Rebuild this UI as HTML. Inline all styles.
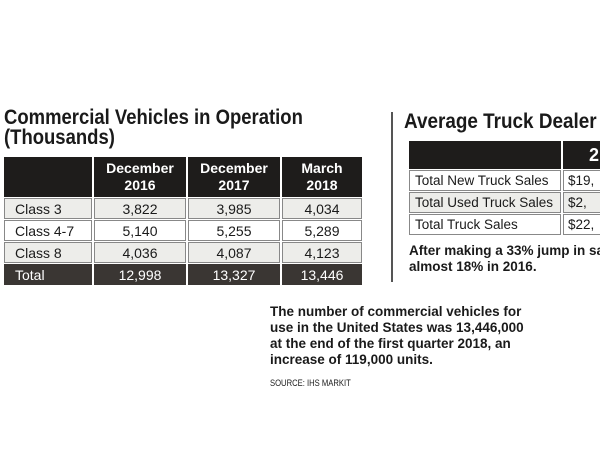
<!DOCTYPE html>
<html><head><style>
body{margin:0;width:600px;height:450px;background:#fff;position:relative;overflow:hidden;font-family:"Liberation Sans",Arial,sans-serif;color:#1a1a1a}
.a{position:absolute;white-space:nowrap}
.ttl{font-weight:bold;font-size:21px;line-height:20px;transform:scaleX(0.88);transform-origin:0 0}
table{border-collapse:separate;border-spacing:2px 1px;position:absolute;font-size:14px}
td{padding:0;height:19px;border:1px solid #888}
.h td{background:#1e1c1b;color:#fff;font-weight:bold;text-align:center;line-height:17px;border-color:#1e1c1b}
.l{padding-left:10px;text-align:left}
.n{text-align:center}
.g td{background:#ededea}
.w td{background:#fff}
.t td{background:#3a3633;color:#fff;border-color:#3a3633}
.p{font-weight:bold;font-size:13.5px;line-height:16px}
</style></head><body>
<div class="a ttl" style="left:4px;top:108px">Commercial Vehicles in Operation<br>(Thousands)</div>
<table style="left:2px;top:156px;width:362px">
<tr class="h"><td style="width:86px;height:38px"></td><td style="width:90px">December<br>2016</td><td style="width:90px">December<br>2017</td><td>March<br>2018</td></tr>
<tr class="g"><td class="l">Class 3</td><td class="n">3,822</td><td class="n">3,985</td><td class="n">4,034</td></tr>
<tr class="w"><td class="l">Class 4-7</td><td class="n">5,140</td><td class="n">5,255</td><td class="n">5,289</td></tr>
<tr class="g"><td class="l">Class 8</td><td class="n">4,036</td><td class="n">4,087</td><td class="n">4,123</td></tr>
<tr class="t"><td class="l">Total</td><td class="n">12,998</td><td class="n">13,327</td><td class="n">13,446</td></tr>
</table>
<div class="a" style="left:391px;top:112px;width:1.5px;height:170px;background:#555"></div>
<div class="a ttl" style="left:404px;top:112px;transform:scaleX(0.9)">Average Truck Dealer</div>
<table style="left:407px;top:140px;width:220px;font-size:13.5px">
<tr class="h"><td style="width:150px;height:26px"></td><td style="font-size:18px">2</td></tr>
<tr class="w"><td class="l" style="padding-left:5px">Total New Truck Sales</td><td style="padding-left:4px">$19,</td></tr>
<tr class="g"><td class="l" style="padding-left:5px">Total Used Truck Sales</td><td style="padding-left:4px">$2,</td></tr>
<tr class="w"><td class="l" style="padding-left:5px">Total Truck Sales</td><td style="padding-left:4px">$22,</td></tr>
</table>
<div class="a p" style="left:409px;top:243px">After making a 33% jump in sa<br>almost 18% in 2016.</div>
<div class="a p" style="left:270px;top:304px">The number of commercial vehicles for<br>use in the United States was 13,446,000<br>at the end of the first quarter 2018, an<br>increase of 119,000 units.</div>
<div class="a" style="left:270px;top:378px;font-size:9px;transform:scaleX(0.85);transform-origin:0 0">SOURCE: IHS MARKIT</div>
</body></html>
